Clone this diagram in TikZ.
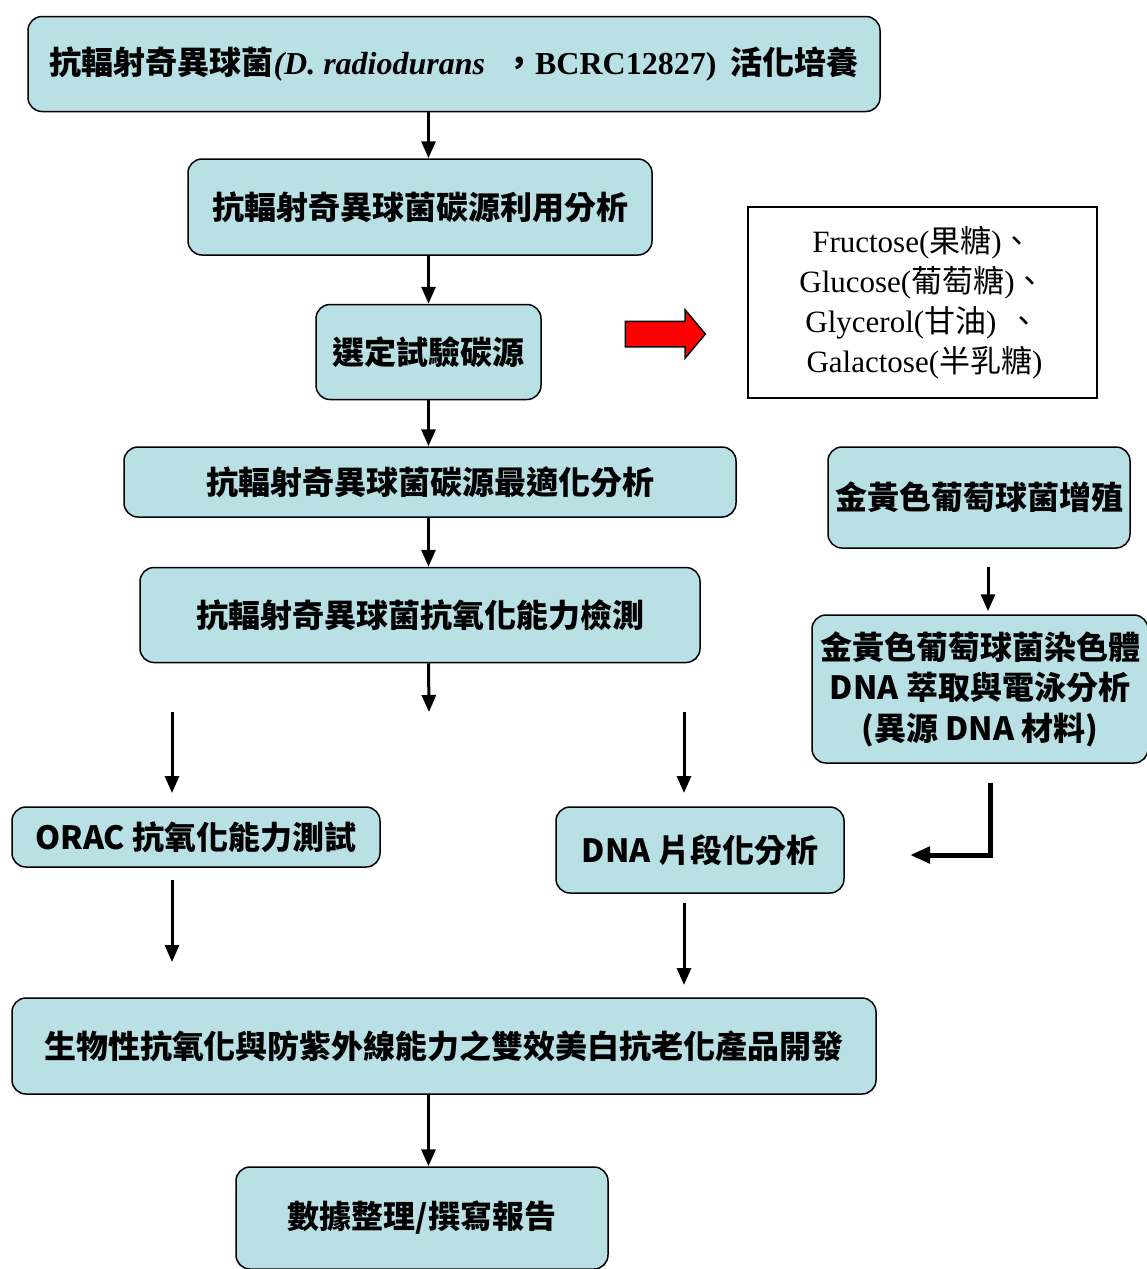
\documentclass[tikz,border=0pt]{standalone}
\usepackage{fontspec}
\setmainfont{Liberation Serif}
\newfontfamily\cjk{Noto Sans CJK TC}
\usepackage{tikz}
\usetikzlibrary{arrows.meta, calc, positioning, shapes.arrows}
\usepackage{xcolor}
\definecolor{BoxBlue}{RGB}{185, 224, 228}
\definecolor{HintRed}{RGB}{255, 0, 0}
\tikzset{%
  flow_block/.style={%
    rectangle,%
    rounded corners=14pt,%
    draw=black,%
    line width=1.5pt,%
    fill=BoxBlue,%
    inner sep=0pt,%
    font={\cjk\bfseries\fontsize{32}{40.5}\selectfont},%
    align=center%
  },
  note_block/.style={%
    rectangle,%
    draw=black,%
    line width=1.5pt,%
    fill=white,%
    inner sep=0pt,%
    font={\fontsize{31}{40}\selectfont},%
    align=center%
  },
  hint_arrow/.style={%
    single arrow,%
    draw=black,%
    line width=1.5pt,%
    fill=HintRed,%
    inner sep=12pt,%
    minimum height=80pt,%
    single arrow head extend=11.5pt,%
    single arrow tip angle=100,%
  },
  flow_arrow/.style={%
    line width=3pt,%
    -{Triangle[length=17pt, width=14pt]}%
  },
  bend_arrow/.style={%
    line width=5pt,%
    -{Triangle[length=20pt, width=16pt]}%
  },
}

\begin{document}
\begin{tikzpicture}[x=1pt, y=-1pt]
    \useasboundingbox (0, 0) rectangle (1147, 1269);

    % main column
    \node [flow_block, minimum width=852, minimum height=95] (culture) at (454, 64) {%
      抗輻射奇異球菌{\rmfamily\itshape (D. radiodurans}\hspace{18pt}，{\rmfamily BCRC12827)}\hspace{14pt}活化培養%
    };
    \node [flow_block, minimum width=464, minimum height=96] (usage) at (420, 207) {%
      抗輻射奇異球菌碳源利用分析%
    };
    \node [flow_block, minimum width=225, minimum height=95] (select) at (428.5, 352) {%
      選定試驗碳源%
    };
    \node [flow_block, minimum width=612, minimum height=70] (optimum) at (430, 482) {%
      抗輻射奇異球菌碳源最適化分析%
    };
    \node [flow_block, minimum width=560, minimum height=95] (antiox) at (420, 615) {%
      抗輻射奇異球菌抗氧化能力檢測%
    };
    \node [flow_block, minimum width=368, minimum height=60] (orac) at (196, 837) {%
      ORAC 抗氧化能力測試%
    };
    \node [flow_block, minimum width=288, minimum height=86] (fragment) at (700, 850) {%
      DNA 片段化分析%
    };
    \node [flow_block, minimum width=864, minimum height=96] (product) at (444, 1046) {%
      生物性抗氧化與防紫外線能力之雙效美白抗老化產品開發%
    };
    \node [flow_block, minimum width=372, minimum height=102] (report) at (422, 1218) {%
      數據整理/撰寫報告%
    };

    % side column
    \node [note_block, minimum width=349, minimum height=191] (sugars) at (922.5, 302.5) {%
      Fructose({\cjk 果糖}){\cjk 、}\\
      Glucose({\cjk 葡萄糖}){\cjk 、}\\
      Glycerol({\cjk 甘油})\hspace{12pt}{\cjk 、}\\
      \hspace{4pt}Galactose({\cjk 半乳糖})%
    };
    \node [hint_arrow] (hint) at (660, 334) {};
    \node [flow_block, minimum width=302, minimum height=101] (grow) at (979, 497.5) {%
      金黃色葡萄球菌增殖%
    };
    \node [flow_block, minimum width=336, minimum height=148] (extract) at (980, 689) {%
      金黃色葡萄球菌染色體\\
      DNA 萃取與電泳分析\\
      (異源 DNA 材料)%
    };

    % loose arrow ends
    \coordinate (split_mid) at (429, 712);
    \coordinate (orac_in_top) at (172, 712);
    \coordinate (orac_in_end) at (172, 793);
    \coordinate (frag_in_top) at (684, 712);
    \coordinate (frag_in_end) at (684, 793);
    \coordinate (orac_out_top) at (172, 880);
    \coordinate (orac_out_end) at (172, 962);
    \coordinate (frag_out_top) at (684, 903);
    \coordinate (frag_out_end) at (684, 985);
    \coordinate (grow_out) at (988, 567);
    \coordinate (extract_out) at (990, 783);
    \coordinate (extract_end) at (910, 855);

    \draw [flow_arrow] (culture.south -| select) -- (usage.north -| select);
    \draw [flow_arrow] (usage.south -| select) -- (select.north);
    \draw [flow_arrow] (select.south) -- (optimum.north -| select);
    \draw [flow_arrow] (optimum.south -| select) -- (antiox.north -| select);
    \draw [flow_arrow] (antiox.south -| select) -- (split_mid);
    \draw [flow_arrow] (orac_in_top) -- (orac_in_end);
    \draw [flow_arrow] (frag_in_top) -- (frag_in_end);
    \draw [flow_arrow] (orac_out_top) -- (orac_out_end);
    \draw [flow_arrow] (frag_out_top) -- (frag_out_end);
    \draw [flow_arrow, shorten >=3pt] (grow_out) -- (extract.north -| grow_out);
    \draw [bend_arrow] (extract_out) |- (extract_end);
    \draw [flow_arrow] (product.south -| select) -- (report.north -| select);
\end{tikzpicture}
\end{document}
